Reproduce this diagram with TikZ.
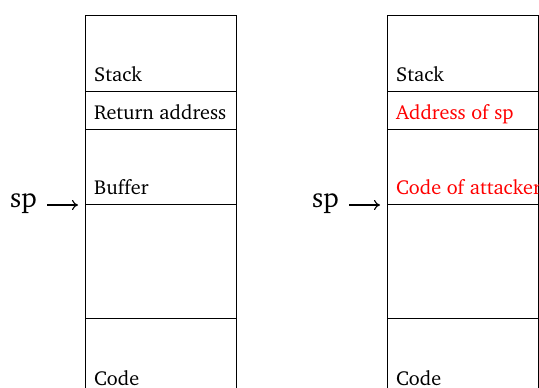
\documentclass[tikz,border=0pt]{standalone}
\usepackage[T1]{fontenc}
\usepackage{charter}
\usetikzlibrary{arrows.meta}
\tikzset{
  cell/.style={draw=black, line width=0.8pt},
  lbl/.style={anchor=base west, inner sep=0pt, font=\fontsize{20.2}{24}\selectfont},
  hot/.style={lbl, text=red},
  spl/.style={anchor=base east, inner sep=0pt, font=\fontsize{28}{32}\selectfont},
  ptr/.style={line width=1.1pt, -{Computer Modern Rightarrow[length=6pt, width=10pt]}}
}
\begin{document}
\begin{tikzpicture}[x=1pt, y=-1pt]
  \useasboundingbox (0,0) rectangle (539,388);
  \clip (0,0) rectangle (539,388);

  % normal stack frame
  \draw[cell] (85,400) -- (85,15) -- (236,15) -- (236,400);
  \foreach \yy in {91,129,204,318} \draw[cell] (85,\yy) -- (236,\yy);
  \node[lbl] (stackA) at (94,81) {Stack};
  \node[lbl] (retA) at (94,119) {Return address};
  \node[lbl] (bufA) at (94,194) {Buffer};
  \node[lbl] (codeA) at (94,385) {Code};
  \node[spl] (spA) at (37,207) {sp};
  \coordinate (tipA) at (78,205);
  \draw[ptr] (spA.east |- tipA) ++(10,0) -- (tipA);

  % frame after the overflow
  \draw[cell] (387,400) -- (387,15) -- (538,15) -- (538,400);
  \foreach \yy in {91,129,204,318} \draw[cell] (387,\yy) -- (538,\yy);
  \node[lbl] (stackB) at (396,81) {Stack};
  \node[hot] (retB) at (396,119) {Address of sp};
  \node[hot] (bufB) at (396,194) {Code of attacker};
  \node[lbl] (codeB) at (396,385) {Code};
  \node[spl] (spB) at (339,207) {sp};
  \coordinate (tipB) at (380,205);
  \draw[ptr] (spB.east |- tipB) ++(10,0) -- (tipB);
\end{tikzpicture}
\end{document}
